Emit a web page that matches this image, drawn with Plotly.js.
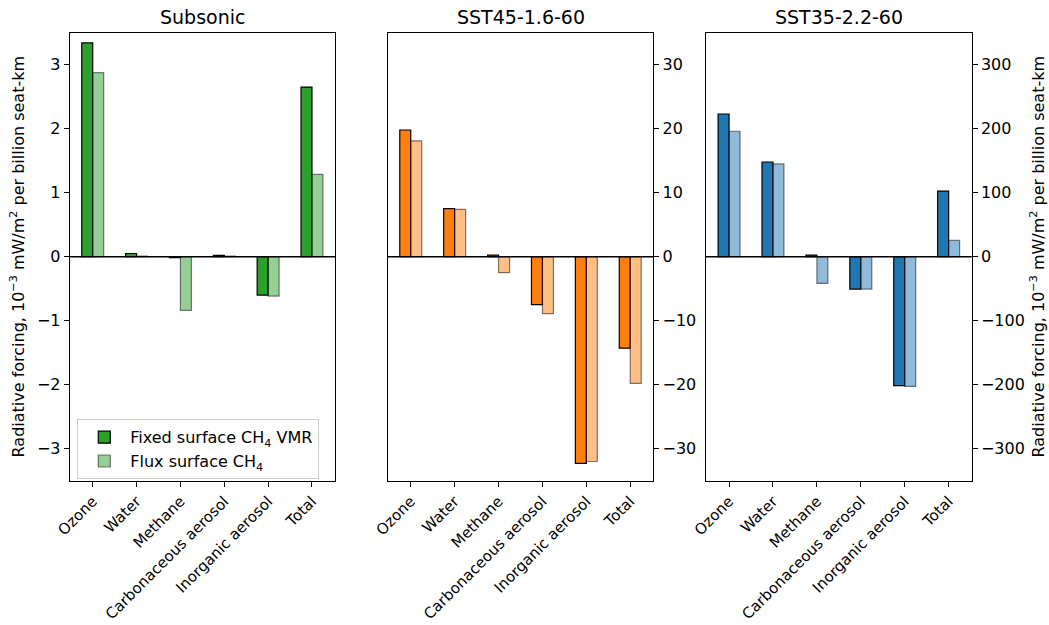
<!DOCTYPE html>
<html>
<head>
<meta charset="utf-8">
<script src="https://cdn.plot.ly/plotly-3.0.1.min.js"></script>
<style>html,body{margin:0;padding:0;background:#fff;}#chart{width:1049px;height:625px;}</style>
</head>
<body>
<div id="chart"></div>
<script>
const categories = ["Ozone", "Water", "Methane", "Carbonaceous aerosol", "Inorganic aerosol", "Total"];
const panelTitles = ["Subsonic", "SST45-1.6-60", "SST35-2.2-60"];
const seriesNames = ["Fixed surface CH<sub>4</sub> VMR", "Flux surface CH<sub>4</sub>"];

const subsonicFixed = [3.34, 0.05, -0.015, 0.02, -0.60, 2.65];
const subsonicFlux  = [2.875, 0.008, -0.84, 0.01, -0.615, 1.286];
const sst45Fixed = [19.8, 7.5, 0.25, -7.5, -32.3, -14.3];
const sst45Flux  = [18.1, 7.4, -2.5, -8.9, -32.0, -19.8];
const sst35Fixed = [223, 148, 2.5, -50.6, -201.6, 102.5];
const sst35Flux  = [196, 145, -41.7, -50.6, -202.7, 25.5];

const yRanges = [[-3.5, 3.5], [-35, 35], [-350, 350]];
const yDticks = [1, 10, 100];
const darkColors = ["#2ca02c", "#ff7f0e", "#1f77b4"];
const lightColors = ["rgba(44,160,44,0.5)", "rgba(255,127,14,0.5)", "rgba(31,119,180,0.5)"];

const W = 1049, H = 625;
const xDomainsPx = [[69.7, 335], [387.7, 653.3], [706, 971.7]];
const yDomain = [1 - 480.7 / H, 1 - 32.7 / H];

const fixedData = [subsonicFixed, sst45Fixed, sst35Fixed];
const fluxData = [subsonicFlux, sst45Flux, sst35Flux];

const font = "DejaVu Sans, sans-serif";
const traces = [];
const layout = {
  width: W, height: H,
  margin: {l: 0, r: 0, t: 0, b: 0},
  paper_bgcolor: "#fff", plot_bgcolor: "#fff",
  font: {family: font, size: 16, color: "#000"},
  barmode: "group", bargap: 0.5, bargroupgap: 0,
  showlegend: true,
  legend: {
    x: 77.3 / W, y: 1 - 419.3 / H, xanchor: "left", yanchor: "top",
    bgcolor: "rgba(255,255,255,0.8)", bordercolor: "#cccccc", borderwidth: 1,
    font: {family: font, size: 16, color: "#000"},
    tracegroupgap: 0, itemwidth: 42
  },
  annotations: [], shapes: []
};

const yTitle = "Radiative forcing, 10<sup>−3</sup> mW/m<sup>2</sup> per billion seat-km";

for (let i = 0; i < 3; i++) {
  const xa = i === 0 ? "x" : "x" + (i + 1);
  const ya = i === 0 ? "y" : "y" + (i + 1);
  traces.push({
    type: "bar", x: categories, y: fixedData[i], xaxis: xa, yaxis: ya,
    name: seriesNames[0], showlegend: i === 0, offsetgroup: "a",
    marker: {color: darkColors[i], line: {color: "#000", width: 1.2}}
  });
  traces.push({
    type: "bar", x: categories, y: fluxData[i], xaxis: xa, yaxis: ya,
    name: seriesNames[1], showlegend: i === 0, offsetgroup: "b",
    marker: {color: lightColors[i], line: {color: "rgba(0,0,0,0.5)", width: 1.2}}
  });
  const xkey = i === 0 ? "xaxis" : "xaxis" + (i + 1);
  const ykey = i === 0 ? "yaxis" : "yaxis" + (i + 1);
  layout[xkey] = {
    domain: [xDomainsPx[i][0] / W, xDomainsPx[i][1] / W],
    anchor: ya, type: "category", range: [-0.525, 5.525],
    showline: true, mirror: true, linecolor: "#000", linewidth: 1,
    ticks: "outside", ticklen: 5, tickcolor: "#000", tickwidth: 1,
    tickangle: -45, showgrid: false, zeroline: false,
    tickfont: {family: font, size: 15, color: "#000"}
  };
  layout[ykey] = {
    domain: yDomain, anchor: xa, range: yRanges[i], dtick: yDticks[i], tick0: 0,
    side: i === 0 ? "left" : "right",
    showline: true, mirror: true, linecolor: "#000", linewidth: 1,
    ticks: "outside", ticklen: 5, tickcolor: "#000", tickwidth: 1,
    showgrid: false, zeroline: false,
    tickfont: {family: font, size: 16, color: "#000"}
  };
  if (i === 0 || i === 2) {
    layout[ykey].title = {text: yTitle, font: {family: font, size: 16, color: "#000"}, standoff: 8};
  }
  layout.annotations.push({
    text: panelTitles[i], xref: "paper", yref: "paper",
    x: (xDomainsPx[i][0] + xDomainsPx[i][1]) / 2 / W, y: 1 - 30 / H,
    xanchor: "center", yanchor: "bottom", showarrow: false,
    font: {family: font, size: 19, color: "#000"}
  });
  layout.shapes.push({
    type: "line", xref: xa + " domain", yref: ya, x0: 0, x1: 1, y0: 0, y1: 0,
    line: {color: "#000", width: 1.5}, layer: "above"
  });
}

Plotly.newPlot("chart", traces, layout, {displayModeBar: false, staticPlot: true});
</script>
</body>
</html>
